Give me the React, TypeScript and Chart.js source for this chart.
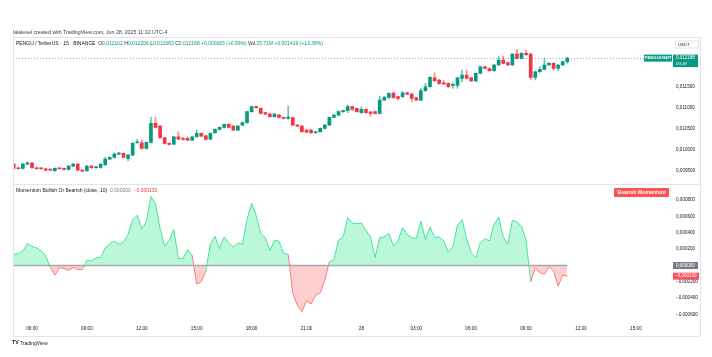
import React, { useEffect, useRef } from "react";
import { Chart, registerables } from "chart.js";

Chart.register(...registerables);

const FONT = "'Liberation Sans', Arial, sans-serif";

// ---- time axis (15-minute candles, index 0 = 06:00 Jun 27) ----
const timeTickIndex = [0, 12, 24, 36, 48, 60, 72, 84, 96, 108, 120, 132];
const timeTickLabels = ["06:00", "09:00", "12:00", "15:00", "18:00", "21:00", "28", "03:00", "06:00", "09:00", "12:00", "15:00"];
const firstCandleIndex = -4;
const xMin = -4.153;
const xMax = 139.89;

// ---- PENGU / USDT 15m candles ----
const opens = [
  0.009665, 0.009578, 0.009562, 0.009665, 0.009689, 0.009578, 0.009562, 0.009554, 0.009530, 0.009506,
  0.009562, 0.009554, 0.009538, 0.009617, 0.009665, 0.009522, 0.009506, 0.009617, 0.009578, 0.009586,
  0.009649, 0.009784, 0.009824, 0.009903, 0.009919, 0.009800, 0.009879, 0.010173, 0.010173, 0.010038,
  0.010181, 0.010634, 0.010570, 0.010292, 0.010157, 0.010141, 0.010316, 0.010268, 0.010276, 0.010237,
  0.010316, 0.010395, 0.010340, 0.010260, 0.010411, 0.010491, 0.010538, 0.010610, 0.010570, 0.010475,
  0.010594, 0.010650, 0.010912, 0.011031, 0.010991, 0.010888, 0.010856, 0.010792, 0.010832, 0.010769,
  0.010753, 0.010769, 0.010594, 0.010570, 0.010475, 0.010475, 0.010411, 0.010435, 0.010515, 0.010594,
  0.010777, 0.010832, 0.010912, 0.010935, 0.011031, 0.010991, 0.010888, 0.010967, 0.010904, 0.010912,
  0.010872, 0.011189, 0.011253, 0.011348, 0.011269, 0.011269, 0.011364, 0.011332, 0.011245, 0.011189,
  0.011412, 0.011507, 0.011721, 0.011666, 0.011602, 0.011586, 0.011539, 0.011539, 0.011706, 0.011785,
  0.011721, 0.011642, 0.011825, 0.011983, 0.011936, 0.011888, 0.012023, 0.012142, 0.012079, 0.012023,
  0.012285, 0.012182, 0.012301, 0.012285, 0.011729, 0.011864, 0.011920, 0.012023, 0.012063, 0.011944,
  0.012023, 0.012102,
];
const highs = [
  0.009681, 0.009594, 0.009689, 0.009721, 0.009705, 0.009594, 0.009578, 0.009570, 0.009546, 0.009578,
  0.009578, 0.009570, 0.009633, 0.009681, 0.009681, 0.009538, 0.009633, 0.009633, 0.009617, 0.009697,
  0.009824, 0.009840, 0.009935, 0.009943, 0.009935, 0.009895, 0.010189, 0.010252, 0.010237, 0.010197,
  0.010777, 0.010777, 0.010586, 0.010308, 0.010173, 0.010332, 0.010435, 0.010300, 0.010316, 0.010332,
  0.010475, 0.010411, 0.010356, 0.010411, 0.010507, 0.010554, 0.010626, 0.010626, 0.010586, 0.010586,
  0.010665, 0.010927, 0.011047, 0.011047, 0.011007, 0.010904, 0.010872, 0.010872, 0.010848, 0.010784,
  0.011047, 0.010784, 0.010610, 0.010586, 0.010491, 0.010491, 0.010451, 0.010530, 0.010610, 0.010792,
  0.010848, 0.010927, 0.010951, 0.011071, 0.011047, 0.011007, 0.011031, 0.010983, 0.010919, 0.010927,
  0.011285, 0.011285, 0.011364, 0.011388, 0.011285, 0.011388, 0.011380, 0.011348, 0.011261, 0.011467,
  0.011586, 0.011745, 0.011840, 0.011682, 0.011650, 0.011602, 0.011602, 0.011737, 0.011904, 0.011904,
  0.011737, 0.011840, 0.011999, 0.011999, 0.011952, 0.012039, 0.012237, 0.012237, 0.012095, 0.012301,
  0.012396, 0.012317, 0.012380, 0.012301, 0.011880, 0.011983, 0.012182, 0.012079, 0.012079, 0.012039,
  0.012118, 0.012206,
];
const lows = [
  0.009546, 0.009538, 0.009546, 0.009649, 0.009562, 0.009538, 0.009538, 0.009506, 0.009506, 0.009490,
  0.009538, 0.009522, 0.009522, 0.009601, 0.009506, 0.009482, 0.009490, 0.009562, 0.009562, 0.009570,
  0.009633, 0.009768, 0.009808, 0.009887, 0.009808, 0.009744, 0.009863, 0.010157, 0.010022, 0.010022,
  0.010165, 0.010522, 0.010276, 0.010141, 0.010117, 0.010125, 0.010244, 0.010237, 0.010221, 0.010221,
  0.010300, 0.010316, 0.010237, 0.010244, 0.010395, 0.010475, 0.010522, 0.010522, 0.010459, 0.010459,
  0.010578, 0.010634, 0.010896, 0.010991, 0.010856, 0.010840, 0.010777, 0.010777, 0.010761, 0.010737,
  0.010737, 0.010578, 0.010554, 0.010419, 0.010411, 0.010395, 0.010395, 0.010419, 0.010499, 0.010578,
  0.010761, 0.010816, 0.010896, 0.010888, 0.010951, 0.010896, 0.010872, 0.010872, 0.010808, 0.010856,
  0.010856, 0.011173, 0.011229, 0.011229, 0.011189, 0.011253, 0.011316, 0.011150, 0.011173, 0.011173,
  0.011396, 0.011491, 0.011634, 0.011563, 0.011555, 0.011491, 0.011467, 0.011467, 0.011626, 0.011690,
  0.011626, 0.011626, 0.011809, 0.011928, 0.011872, 0.011872, 0.012007, 0.012047, 0.012007, 0.012007,
  0.012166, 0.012166, 0.012253, 0.011682, 0.011666, 0.011848, 0.011904, 0.012007, 0.011904, 0.011888,
  0.012007, 0.012063,
];
const closes = [
  0.009562, 0.009554, 0.009665, 0.009697, 0.009578, 0.009554, 0.009554, 0.009522, 0.009522, 0.009562,
  0.009554, 0.009538, 0.009617, 0.009665, 0.009522, 0.009498, 0.009617, 0.009578, 0.009601, 0.009657,
  0.009784, 0.009824, 0.009903, 0.009919, 0.009824, 0.009879, 0.010157, 0.010197, 0.010038, 0.010181,
  0.010634, 0.010538, 0.010292, 0.010157, 0.010133, 0.010316, 0.010260, 0.010252, 0.010237, 0.010316,
  0.010395, 0.010332, 0.010252, 0.010395, 0.010491, 0.010538, 0.010610, 0.010538, 0.010475, 0.010570,
  0.010650, 0.010912, 0.011031, 0.011007, 0.010872, 0.010856, 0.010792, 0.010856, 0.010777, 0.010753,
  0.010784, 0.010594, 0.010570, 0.010435, 0.010427, 0.010411, 0.010435, 0.010515, 0.010594, 0.010777,
  0.010832, 0.010912, 0.010935, 0.011031, 0.010967, 0.010912, 0.010967, 0.010888, 0.010872, 0.010872,
  0.011189, 0.011253, 0.011348, 0.011245, 0.011229, 0.011364, 0.011332, 0.011229, 0.011189, 0.011412,
  0.011507, 0.011729, 0.011650, 0.011586, 0.011571, 0.011507, 0.011563, 0.011721, 0.011785, 0.011706,
  0.011642, 0.011825, 0.011983, 0.011944, 0.011888, 0.012023, 0.012142, 0.012063, 0.012023, 0.012285,
  0.012182, 0.012301, 0.012269, 0.011729, 0.011864, 0.011920, 0.012023, 0.012063, 0.011944, 0.012023,
  0.012105, 0.012188,
];

// ---- Momentum (close, 10) ----
const momentum = [
  0.000138, 0.000146, 0.000179, 0.000268, 0.000236, 0.000216, 0.000179, 0.000114,
  -0.000024, -0.000118, -0.000024, -0.000037, -0.000057, -0.000024, -0.000049, -0.000049,
  0.000065, 0.000057, 0.000094, 0.000098, 0.000216, 0.000268, 0.000297, 0.000260,
  0.000289, 0.000382, 0.000561, 0.000614, 0.000451, 0.000533, 0.000846, 0.000756,
  0.000451, 0.000236, 0.000309, 0.000439, 0.000085, 0.000085, 0.000195, 0.000126,
  -0.000228, -0.000199, -0.000065, 0.000268, 0.000358, 0.000207, 0.000350, 0.000277,
  0.000228, 0.000277, 0.000260, 0.000561, 0.000764, 0.000614, 0.000390, 0.000342,
  0.000179, 0.000309, 0.000297, 0.000146, 0.000138, -0.000341, -0.000484, -0.000565,
  -0.000431, -0.000471, -0.000362, -0.000333, -0.000179, 0.000045, 0.000073, 0.000309,
  0.000350, 0.000585, 0.000520, 0.000512, 0.000520, 0.000431, 0.000350, 0.000098,
  0.000342, 0.000350, 0.000398, 0.000236, 0.000301, 0.000464, 0.000382, 0.000342,
  0.000329, 0.000545, 0.000317, 0.000472, 0.000342, 0.000350, 0.000301, 0.000167,
  0.000228, 0.000492, 0.000561, 0.000329, 0.000155, 0.000098, 0.000277, 0.000329,
  0.000301, 0.000504, 0.000594, 0.000350, 0.000260, 0.000553, 0.000533, 0.000480,
  0.000309, -0.000199, -0.000024, -0.000089, -0.000106, -0.000016, -0.000065, -0.000252,
  -0.000118, -0.000130,
];

// ---- axis ticks ----
const priceTicks = [0.0095, 0.01, 0.0105, 0.011, 0.0115];
const priceMin = 0.0092024;
const priceMax = 0.0127024;
const momentumTicks = [-0.0006, -0.0004, -0.0002, 0, 0.0002, 0.0004, 0.0006, 0.0008];
const momentumMin = -0.000679;
const momentumMax = 0.001004;
const countdownText = "03:19";

const UP = "#089981";
const DOWN = "#f23645";
const UP_WICK = "rgba(8,153,129,0.6)";
const DOWN_WICK = "rgba(242,54,69,0.6)";
const MOM_GREEN = "#45e39c";
const MOM_RED = "#f77c80";

const fmt = (v: number) => (v < -1e-12 ? "\u2212" : "") + Math.abs(v).toFixed(6).replace(".", ",");

const decorations = {
  id: "decorations",
  beforeDatasetsDraw(chart: any) {
    const { ctx, chartArea } = chart;
    const py = Math.round(chart.scales.y.getPixelForValue(closes[closes.length - 1])) + 0.5;
    ctx.save();
    ctx.strokeStyle = "rgba(8,153,129,0.6)";
    ctx.lineWidth = 1;
    ctx.setLineDash([1, 2]);
    ctx.beginPath();
    ctx.moveTo(chartArea.left, py);
    ctx.lineTo(chartArea.right, py);
    ctx.stroke();
    ctx.restore();
  },
  afterDraw(chart: any) {
    const { ctx, chartArea } = chart;
    const yS = chart.scales.y;
    const y2 = chart.scales.y2;
    const L = chartArea.left;
    const R = chartArea.right;
    const T = chartArea.top;
    const B = chartArea.bottom;
    const outerR = R + 28;
    const outerB = B + 15;
    ctx.save();
    ctx.setLineDash([]);
    ctx.strokeStyle = "#e0e3eb";
    ctx.lineWidth = 1;
    const h = (yy: number, x0: number, x1: number) => {
      const p = Math.round(yy) + 0.5;
      ctx.beginPath(); ctx.moveTo(x0, p); ctx.lineTo(x1, p); ctx.stroke();
    };
    const v = (xx: number, y0: number, y1: number) => {
      const p = Math.round(xx) + 0.5;
      ctx.beginPath(); ctx.moveTo(p, y0); ctx.lineTo(p, y1); ctx.stroke();
    };
    h(T, L, outerR);
    h(yS.bottom, L, outerR);
    h(outerB, L, outerR);
    v(L, T, outerB);
    v(outerR, T, outerB);

    const rect = (x: number, y: number, w: number, hh: number, fill: string, stroke?: string) => {
      ctx.fillStyle = fill;
      ctx.fillRect(x, y, w, hh);
      if (stroke) { ctx.strokeStyle = stroke; ctx.strokeRect(x + 0.5, y + 0.5, w - 1, hh - 1); }
    };
    const text = (s: string, x: number, y: number, color: string, size: number, bold = false, align: CanvasTextAlign = "left") => {
      ctx.font = `${bold ? "bold " : ""}${size}px ${FONT}`;
      ctx.fillStyle = color;
      ctx.textAlign = align;
      ctx.textBaseline = "middle";
      ctx.fillText(s, x, y);
    };

    // currency box
    rect(R + 3, T + 4, 24, 8, "#ffffff", "#e0e3eb");
    text("USDT", R + 6, T + 8, "#131722", 4.3);

    // last price
    const lastClose = closes[closes.length - 1];
    const py = yS.getPixelForValue(lastClose);
    rect(R - 28, py - 3.5, 28, 7, UP);
    text("PENGUUSDT", R - 14, py, "#ffffff", 4.3, true, "center");
    rect(R + 1, py - 3.5, 25, 12.5, UP);
    text(fmt(lastClose), R + 4, py, "#ffffff", 4.5);
    text(countdownText, R + 4, py + 5.8, "#ffffff", 4.3);

    // momentum axis markers
    const zy = y2.getPixelForValue(0);
    rect(R + 1, zy - 3.5, 25, 7, "#787b86");
    text(fmt(0), R + 4, zy, "#ffffff", 4.5);
    const lastMom = momentum[momentum.length - 1];
    const my = y2.getPixelForValue(lastMom);
    rect(R + 1, my - 3.5, 26, 7, "#f7525f");
    text(fmt(lastMom), R + 3, my, "#ffffff", 4.5);

    // bearish label
    rect(R - 58, y2.top + 4.5, 55, 9, "#ff5252");
    text("Bearish Momentum", R - 30.5, y2.top + 9, "#ffffff", 5.2, true, "center");
    ctx.restore();
  },
};

function Tiny(props: { x: number; y: number; size: number; color?: string; children: React.ReactNode; bold?: boolean }) {
  return (
    <div
      style={{
        position: "absolute",
        left: props.x,
        top: props.y - props.size / 2,
        fontFamily: FONT,
        fontSize: props.size * 2,
        lineHeight: 1,
        fontWeight: props.bold ? 700 : 400,
        color: props.color || "#131722",
        whiteSpace: "nowrap",
        transform: "scale(0.5)",
        transformOrigin: "0 0",
      }}
    >
      {props.children}
    </div>
  );
}

export default function App() {
  const ref = useRef<HTMLCanvasElement>(null);

  useEffect(() => {
    const canvas = ref.current;
    if (!canvas) return;
    const xs = closes.map((_, i) => firstCandleIndex + i);
    const isUp = closes.map((c, i) => c >= opens[i]);

    const chart = new Chart(canvas, {
      type: "bar",
      data: {
        datasets: [
          {
            type: "line",
            label: "Momentum",
            data: xs.map((x, i) => ({ x, y: momentum[i] })),
            yAxisID: "y2",
            borderColor: MOM_GREEN,
            borderWidth: 1,
            pointRadius: 0,
            tension: 0,
            fill: { target: { value: 0 }, above: "rgba(105,240,174,0.45)", below: "rgba(255,82,82,0.28)" },
            segment: {
              borderColor: (c: any) => ((c.p0.parsed.y + c.p1.parsed.y) / 2 < 0 ? MOM_RED : MOM_GREEN),
            },
            order: 3,
          } as any,
          {
            type: "line",
            label: "Zero",
            data: xs.map((x) => ({ x, y: 0 })),
            yAxisID: "y2",
            borderColor: "#a5a8b0",
            borderWidth: 1.5,
            pointRadius: 0,
            fill: false,
            order: 2,
          } as any,
          {
            type: "bar",
            label: "Wicks",
            data: xs.map((x, i) => ({ x, y: [lows[i], highs[i]] })),
            yAxisID: "y",
            backgroundColor: isUp.map((u) => (u ? UP_WICK : DOWN_WICK)),
            barThickness: 1,
            grouped: false,
            order: 1,
          } as any,
          {
            type: "bar",
            label: "Bodies",
            data: xs.map((x, i) => ({ x, y: [opens[i], closes[i]] })),
            yAxisID: "y",
            backgroundColor: isUp.map((u) => (u ? UP : DOWN)),
            barThickness: 3,
            minBarLength: 1,
            grouped: false,
            order: 0,
          } as any,
        ],
      },
      options: {
        animation: false,
        responsive: false,
        devicePixelRatio: 1,
        events: [],
        layout: { padding: { left: 13, top: 36.5, right: 12, bottom: 21 } },
        plugins: { legend: { display: false }, tooltip: { enabled: false } },
        scales: {
          x: {
            type: "linear",
            position: "bottom",
            min: xMin,
            max: xMax,
            offset: false,
            grid: { display: false, drawTicks: false, tickLength: 0 },
            border: { display: false },
            afterBuildTicks: (s: any) => {
              s.ticks = timeTickIndex.map((value) => ({ value }));
            },
            afterFit: (s: any) => {
              s.height = 15;
            },
            ticks: {
              autoSkip: false,
              maxRotation: 0,
              padding: 5,
              color: "#131722",
              font: { family: FONT, size: 4.7 },
              callback: (val: any) => {
                const k = timeTickIndex.indexOf(Number(val));
                return k >= 0 ? timeTickLabels[k] : "";
              },
            },
          },
          y: {
            type: "linear",
            position: "right",
            stack: "panes",
            stackWeight: 147,
            min: priceMin,
            max: priceMax,
            grid: { display: false, drawTicks: false, tickLength: 0 },
            border: { display: false },
            afterBuildTicks: (s: any) => {
              s.ticks = priceTicks.map((value) => ({ value }));
            },
            afterFit: (s: any) => {
              s.width = 28;
            },
            ticks: {
              padding: 4,
              color: "#131722",
              font: { family: FONT, size: 4.6 },
              callback: (val: any) => fmt(Number(val)),
            },
          },
          y2: {
            type: "linear",
            position: "right",
            stack: "panes",
            stackWeight: 137.5,
            min: momentumMin,
            max: momentumMax,
            grid: { display: false, drawTicks: false, tickLength: 0 },
            border: { display: false },
            afterBuildTicks: (s: any) => {
              s.ticks = momentumTicks.map((value) => ({ value }));
            },
            afterFit: (s: any) => {
              s.width = 28;
            },
            ticks: {
              padding: 4,
              color: "#131722",
              font: { family: FONT, size: 4.6 },
              callback: (val: any) => fmt(Number(val)),
            },
          },
        },
      } as any,
      plugins: [decorations],
    });
    return () => chart.destroy();
  }, []);

  const last = closes.length - 1;
  return (
    <div style={{ position: "fixed", left: 0, top: 0, width: 712, height: 357, background: "#ffffff", overflow: "hidden" }}>
      <canvas ref={ref} width={712} height={357} style={{ position: "absolute", left: 0, top: 0, width: 712, height: 357 }} />
      <Tiny x={13} y={32} size={5.25} color="#3a3e48">
        lalalesel created with TradingView.com, Jun 28, 2025 11:32 UTC-4
      </Tiny>
      <Tiny x={16} y={43.5} size={5.0} color="#131722">
        PENGU / TetherUS · 15 · BINANCE&nbsp;&nbsp;
        <span>O</span><span style={{ color: UP }}>{fmt(opens[last])}</span>&nbsp;
        <span>H</span><span style={{ color: UP }}>{fmt(highs[last])}</span>&nbsp;
        <span>L</span><span style={{ color: UP }}>{fmt(lows[last])}</span>&nbsp;
        <span>C</span><span style={{ color: UP }}>{fmt(closes[last])}</span>&nbsp;
        <span style={{ color: UP }}>+0,000083 (+0,69%)</span>&nbsp;
        <span>Vol.</span><span style={{ color: UP }}>25,71M</span>&nbsp;
        <span style={{ color: UP }}>+0,001419 (+13,38%)</span>
      </Tiny>
      <Tiny x={16} y={190} size={5} color="#131722">
        Momentum Bullish Or Bearish (close, 10)&nbsp;&nbsp;
        <span style={{ color: "#787b86" }}>{fmt(0)}</span>&nbsp;&nbsp;
        <span style={{ color: "#f23645" }}>{fmt(momentum[momentum.length - 1])}</span>
      </Tiny>
      <Tiny x={12} y={343} size={5.2} color="#131722" bold>
        TV
      </Tiny>
      <Tiny x={20} y={343} size={5} color="#131722">
        TradingView
      </Tiny>
    </div>
  );
}
